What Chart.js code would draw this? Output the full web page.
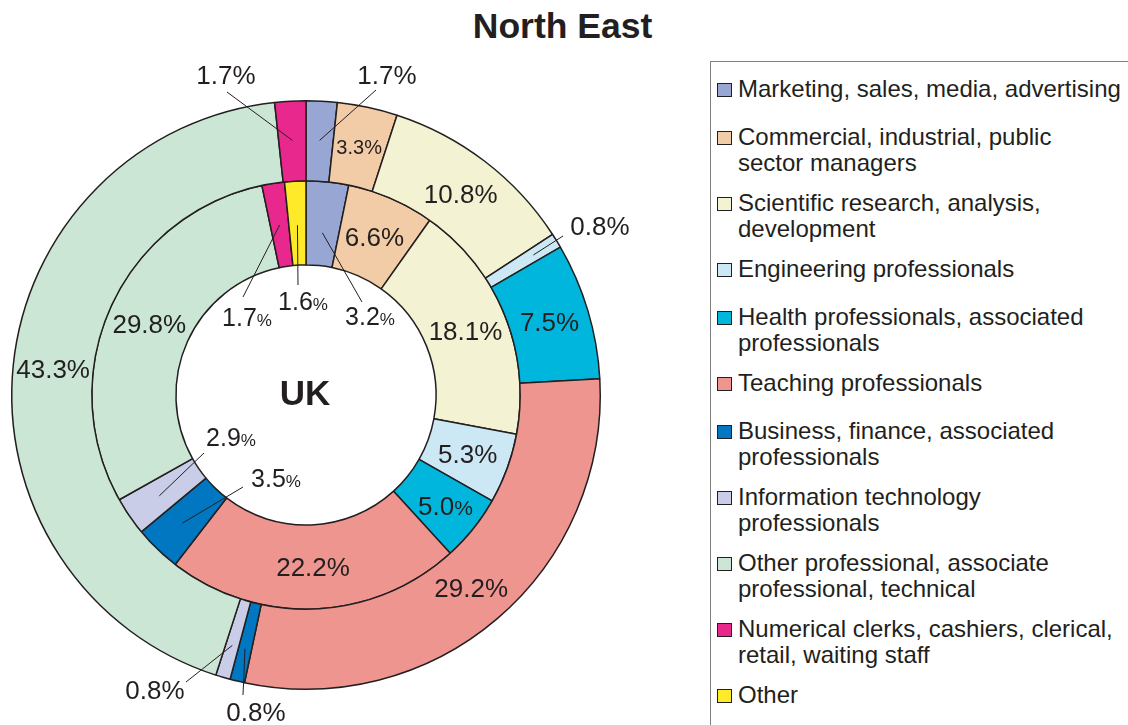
<!DOCTYPE html>
<html>
<head>
<meta charset="utf-8">
<script src="https://cdn.jsdelivr.net/npm/chart.js@4/dist/chart.umd.min.js"></script>
<style>
body { margin: 0; background: #fff; font-family: "Liberation Sans", Arial, sans-serif; color: #231f20; }
#wrap { position: relative; width: 1128px; height: 725px; overflow: hidden; }
#title { position: absolute; left: 0; top: 9px; width: 1125px; text-align: center; font-weight: bold; font-size: 35.5px; line-height: 35px; }
#chart { position: absolute; left: 0; top: 0; }
#legendBox { position: absolute; left: 710px; top: 61px; width: 500px; height: 800px; border: 1.5px solid #808080; box-sizing: border-box; }
#legend { position: absolute; left: 717px; top: 76px; width: 411px; }
.item { position: relative; padding-left: 21px; font-size: 24px; line-height: 26px; white-space: pre-line; }
.sw { position: absolute; left: 0; top: 7px; width: 15px; height: 14px; box-sizing: border-box; border: 1.5px solid #231f20; }
</style>
</head>
<body>
<div id="wrap">
  <div id="title">North East</div>
  <canvas id="chart" width="700" height="725"></canvas>
  <div id="legendBox"></div>
  <div id="legend"></div>
</div>
<script>
/* DATA */

const categories = [
"Marketing, sales, media, advertising",
"Commercial, industrial, public\nsector managers",
"Scientific research, analysis,\ndevelopment",
"Engineering professionals",
"Health professionals, associated\nprofessionals",
"Teaching professionals",
"Business, finance, associated\nprofessionals",
"Information technology\nprofessionals",
"Other professional, associate\nprofessional, technical",
"Numerical clerks, cashiers, clerical,\nretail, waiting staff",
"Other"
];

// outer ring
const northEast = [1.7, 3.3, 10.8, 0.8, 7.5, 29.2, 0.8, 0.8, 43.3, 1.7, 0];

// inner ring
const uk = [3.2, 6.6, 18.1, 5.3, 5.0, 22.2, 3.5, 2.9, 29.8, 1.7, 1.6];

const colors = [
"#98a6d4", "#f2cca6", "#f3f2d3", "#cce8f4", "#00b6dc", "#ef9590",
"#0077c0", "#c9cde7", "#cbe6d5", "#e9288e", "#ffea2a"
];

/* LABEL PLACEMENT (per ring, per slice) */
// in: label at slice centre; out: leader line from radius r to end, text at txt (offsets from chart centre)

const outerLabels = [
{ out: true, r: 255, end: [70, -305], txt: [81, -320], size: 26, pct: 26 },
{ size: 20, pct: 20 },
{ size: 26, pct: 26 },
{ out: true, r: 267, end: [257, -159], txt: [294, -169], size: 26, pct: 26 },
{ size: 26, pct: 26 },
{ size: 26, pct: 26 },
{ out: true, r: 261, end: [-63, 300], txt: [-50, 317], size: 26, pct: 26 },
{ out: true, r: 261, end: [-120, 287], txt: [-151, 295], size: 26, pct: 26 },
{ size: 26, pct: 26 },
{ out: true, r: 255, end: [-79, -303], txt: [-80, -320], size: 26, pct: 26 },
null
];

const innerLabels = [
{ out: true, r: 163, end: [56, -93], txt: [64, -79], size: 25, pct: 17 },
{ size: 26, pct: 26 },
{ size: 26, pct: 26 },
{ size: 26, pct: 26 },
{ size: 26, pct: 21, dx: 5, dy: 3 },
{ size: 26, pct: 26 },
{ out: true, r: 178, end: [-63, 92], txt: [-30, 83], size: 25, pct: 17 },
{ out: true, r: 178, end: [-102, 58], txt: [-75, 42], size: 25, pct: 17 },
{ size: 26, pct: 26 },
{ out: true, r: 172, end: [-63, -98], txt: [-59, -78], size: 25, pct: 17 },
{ out: true, r: 170, end: [-8, -110], txt: [-3, -94], size: 25, pct: 17 }
];

const ringLabels = [outerLabels, innerLabels];

/* LEGEND */

const legend = document.getElementById("legend");

categories.forEach((c, i) => {
const item = document.createElement("div");
item.className = "item";
item.style.marginBottom = (c.indexOf("\n") >= 0 ? 14 : 22) + "px";
item.innerHTML = '<span class="sw" style="background:' + colors[i] + '"></span>' + c;
legend.appendChild(item);
});

/* LABELS PLUGIN */

const FONT = '"Liberation Sans", Arial, sans-serif';

function drawValue(ctx, value, x, y, size, pctSize) {
const num = value.toFixed(1);
ctx.font = size + "px " + FONT;
const w1 = ctx.measureText(num).width;
ctx.font = pctSize + "px " + FONT;
const w2 = ctx.measureText("%").width;
const left = x - (w1 + w2) / 2;
const base = y + size * 0.716 / 2;
ctx.textAlign = "left";
ctx.textBaseline = "alphabetic";
ctx.font = size + "px " + FONT;
ctx.fillText(num, left, base);
ctx.font = pctSize + "px " + FONT;
ctx.fillText("%", left + w1, base);
}

const sliceLabels = {
id: "sliceLabels",
afterDatasetsDraw(chart) {
const ctx = chart.ctx;
ctx.save();
ctx.fillStyle = "#231f20";
ctx.strokeStyle = "#231f20";
ctx.lineWidth = 1;

chart.data.datasets.forEach((ds, i) => {
const meta = chart.getDatasetMeta(i);
meta.data.forEach((arc, j) => {
const spec = ringLabels[i][j];
if (!spec || !ds.data[j]) return;
const p = arc.getProps(["x", "y", "startAngle", "endAngle"]);
let tx, ty;
if (spec.out) {
const mid = (p.startAngle + p.endAngle) / 2;
ctx.beginPath();
ctx.moveTo(p.x + Math.cos(mid) * spec.r, p.y + Math.sin(mid) * spec.r);
ctx.lineTo(p.x + spec.end[0], p.y + spec.end[1]);
ctx.stroke();
tx = p.x + spec.txt[0];
ty = p.y + spec.txt[1];
} else {
const c = arc.getCenterPoint();
tx = c.x + (spec.dx || 0);
ty = c.y + (spec.dy || 0);
}
drawValue(ctx, ds.data[j], tx, ty, spec.size, spec.pct);
});
});

// centre caption
const a = chart.getDatasetMeta(0).data[0];
ctx.font = "bold 35px " + FONT;
ctx.textAlign = "center";
ctx.textBaseline = "middle";
ctx.fillText("UK", a.x - 1, a.y);
ctx.restore();
}
};

/* CHART */

new Chart(document.getElementById("chart"), {

type: "doughnut",

data: {
labels: categories.map(c => c.replace("\n", " ")),
datasets: [
{
label: "North East",
data: northEast,
backgroundColor: colors,
borderColor: "#231f20",
borderWidth: 1.5,
weight: 80
},
{
label: "UK",
data: uk,
backgroundColor: colors,
borderColor: "#231f20",
borderWidth: 1.5,
weight: 84
}
]
},

options: {
responsive: false,
animation: false,
events: [],
cutout: "44.2%",
layout: { padding: { left: 11, top: 100, right: 99, bottom: 35 } },
plugins: {
legend: { display: false },
tooltip: { enabled: false }
}
},

plugins: [sliceLabels]

});
</script>
</body>
</html>
